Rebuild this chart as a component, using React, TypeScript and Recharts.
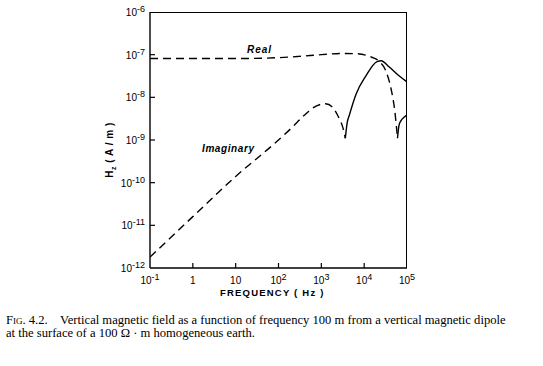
import React from "react";
import { LineChart, Line, XAxis, YAxis } from "recharts";

// frequency (Hz) and |Hz| (A/m)
const realNegF = [0.1, 1, 10, 100, 300, 1000, 3000, 7000, 15000, 22000, 32000, 42000, 52000, 60000];
const realNegV = [8.1e-8, 8.1e-8, 8.1e-8, 8.5e-8, 9.1e-8, 1.0e-7, 1.07e-7, 1.05e-7, 8.7e-8, 7.1e-8, 4.2e-8, 1.66e-8, 4.7e-9, 1.1e-9];

const realPosF = [60000, 65000, 72000, 85000, 100000];
const realPosV = [1.1e-9, 2.2e-9, 2.8e-9, 3.4e-9, 3.9e-9];

const imagNegF = [0.1, 1, 10, 100, 200, 400, 630, 1000, 1260, 1780, 2500, 3160, 3630];
const imagNegV = [1.8e-12, 1.6e-11, 1.4e-10, 1.0e-9, 1.9e-9, 3.8e-9, 5.6e-9, 6.9e-9, 7.1e-9, 6.0e-9, 3.5e-9, 2.0e-9, 1.1e-9];

const imagPosF = [3630, 4000, 4500, 6500, 11000, 20000, 25000, 38000, 65000, 100000];
const imagPosV = [1.1e-9, 2.5e-9, 3.8e-9, 1.2e-8, 3.2e-8, 6.9e-8, 7.2e-8, 5.2e-8, 3.2e-8, 2.3e-8];

const xTicks = [0.1, 1, 10, 100, 1000, 10000, 100000];
const xTickLabels = [["10", "-1"], ["1", ""], ["10", ""], ["10", "2"], ["10", "3"], ["10", "4"], ["10", "5"]];
const yTicks = [1e-12, 1e-11, 1e-10, 1e-9, 1e-8, 1e-7, 1e-6];
const yTickLabels = ["-12", "-11", "-10", "-9", "-8", "-7", "-6"];

const toPoints = (f: number[], v: number[]) => f.map((x, i) => ({ f: x, v: v[i] }));

const tickFont = "'Liberation Sans', Arial, sans-serif";

const XTick = (props: any) => {
  const { x, y, index } = props;
  const [base, exp] = xTickLabels[index] || ["", ""];
  return (
    <g>
      {index > 0 && index < xTicks.length - 1 && (
        <line x1={x} y1={y} x2={x} y2={y - 5} stroke="#000" strokeWidth={1.2} />
      )}
      <text x={x} y={y + 16} textAnchor="middle" fontSize={10} fontFamily={tickFont} fill="#000">
        {base}
        {exp && (
          <tspan dy={-4} fontSize={9}>
            {exp}
          </tspan>
        )}
      </text>
    </g>
  );
};

const YTick = (props: any) => {
  const { x, y, index } = props;
  return (
    <g>
      {index > 0 && index < yTicks.length - 1 && (
        <line x1={x} y1={y} x2={x + 5} y2={y} stroke="#000" strokeWidth={1.2} />
      )}
      <text x={x - 5} y={y + 4} textAnchor="end" fontSize={10} fontFamily={tickFont} fill="#000">
        10
        <tspan dy={-4} fontSize={9}>
          {yTickLabels[index]}
        </tspan>
      </text>
    </g>
  );
};

const lineStyle = { stroke: "#000", strokeWidth: 1.4, dot: false, isAnimationActive: false, type: "monotone" as const };

export default function App() {
  return (
    <div style={{ position: "absolute", left: 0, top: 0, width: 543, height: 366, background: "#fff" }}>
      <LineChart width={543} height={366} margin={{ top: 12, right: 136, bottom: 68, left: 90 }}>
        <XAxis
          dataKey="f"
          type="number"
          scale="log"
          domain={[0.1, 100000]}
          ticks={xTicks}
          allowDataOverflow
          height={30}
          tickSize={0}
          tickMargin={0}
          tick={<XTick />}
          axisLine={{ stroke: "#000", strokeWidth: 1.4 }}
          interval={0}
        />
        <YAxis
          dataKey="v"
          type="number"
          scale="log"
          domain={[1e-12, 1e-6]}
          ticks={yTicks}
          allowDataOverflow
          width={60}
          tickSize={0}
          tickMargin={0}
          tick={<YTick />}
          axisLine={{ stroke: "#000", strokeWidth: 1.4 }}
          interval={0}
        />
        <Line data={toPoints(realNegF, realNegV)} dataKey="v" strokeDasharray="8 5" {...lineStyle} />
        <Line data={toPoints(realPosF, realPosV)} dataKey="v" {...lineStyle} />
        <Line data={toPoints(imagNegF, imagNegV)} dataKey="v" strokeDasharray="8 5" {...lineStyle} />
        <Line data={toPoints(imagPosF, imagPosV)} dataKey="v" {...lineStyle} />
      </LineChart>

      {/* top and right frame lines */}
      <div style={{ position: "absolute", left: 150, top: 12, width: 257, height: 256, borderTop: "1.4px solid #000", borderRight: "1.4px solid #000", boxSizing: "border-box", pointerEvents: "none" }} />

      <div style={{ position: "absolute", left: 247, top: 44, fontFamily: tickFont, fontSize: 10, fontStyle: "italic", fontWeight: "bold", letterSpacing: 1 }}>
        Real
      </div>
      <div style={{ position: "absolute", left: 202, top: 143, fontFamily: tickFont, fontSize: 10, fontStyle: "italic", fontWeight: "bold", letterSpacing: 0.6 }}>
        Imaginary
      </div>
      <div
        style={{
          position: "absolute",
          left: 110,
          top: 150,
          transform: "translate(-50%, -50%) rotate(-90deg)",
          fontFamily: tickFont,
          fontSize: 10,
          fontWeight: "bold",
          whiteSpace: "nowrap",
          letterSpacing: 0.5,
        }}
      >
        H<sub style={{ fontSize: 7 }}>z</sub> ( A / m )
      </div>
      <div style={{ position: "absolute", left: 220, top: 287, fontFamily: tickFont, fontSize: 9.5, fontWeight: "bold", letterSpacing: 1.2, whiteSpace: "nowrap" }}>
        FREQUENCY ( Hz )
      </div>
      <div style={{ position: "absolute", left: 6, top: 314, width: 530, fontFamily: "'Liberation Serif', 'Times New Roman', serif", fontSize: 12.6, lineHeight: "13px", color: "#000" }}>
        <div style={{ whiteSpace: "nowrap" }}>
          <span style={{ fontVariant: "small-caps" }}>Fig.</span> 4.2.&nbsp;&nbsp;&nbsp; Vertical magnetic field as a function of frequency 100 m from a vertical magnetic dipole
        </div>
        <div style={{ whiteSpace: "nowrap" }}>at the surface of a 100 Ω · m homogeneous earth.</div>
      </div>
    </div>
  );
}
